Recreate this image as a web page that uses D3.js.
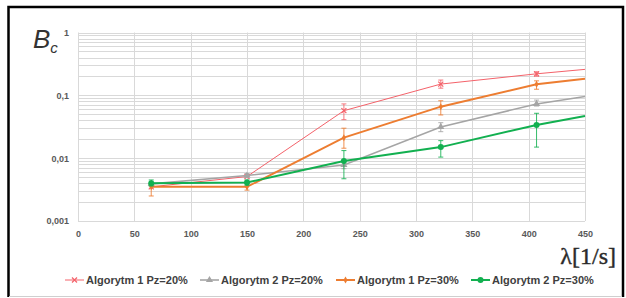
<!DOCTYPE html>
<html><head><meta charset="utf-8">
<script src="https://cdn.jsdelivr.net/npm/d3@7"></script>
<style>body{margin:0;background:#fff;}svg{display:block;font-family:Arial,"Liberation Sans",sans-serif;}</style>
</head><body><svg id="c" width="626" height="298"></svg>
<script>
const lambda = [65, 150, 236, 322, 407, 450];
const seriesNames = ["Algorytm 1 Pz=20%", "Algorytm 2 Pz=20%", "Algorytm 1 Pz=30%", "Algorytm 2 Pz=30%"];
const alg1pz20 = [0.0035, 0.0051, 0.057, 0.151, 0.22, 0.259];
const alg2pz20 = [0.0039, 0.0053, 0.0078, 0.0314, 0.073, 0.096];
const alg1pz30 = [0.0035, 0.0035, 0.0212, 0.066, 0.15, 0.184];
const alg2pz30 = [0.0040, 0.0041, 0.009, 0.015, 0.0338, 0.047];
const alg1pz20Lo = [null, null, 0.041, 0.130, 0.202, null];
const alg1pz20Hi = [null, null, 0.073, 0.175, 0.237, null];
const alg2pz20Lo = [null, 0.0049, 0.0068, 0.0264, 0.0676, null];
const alg2pz20Hi = [null, 0.0057, 0.0093, 0.0367, 0.084, null];
const alg1pz30Lo = [0.0025, 0.0031, 0.0144, 0.0487, 0.125, null];
const alg1pz30Hi = [0.0040, 0.0039, 0.030, 0.082, 0.17, null];
const alg2pz30Lo = [0.0036, 0.0037, 0.0047, 0.0104, 0.015, null];
const alg2pz30Hi = [0.0045, 0.0045, 0.0132, 0.019, 0.0518, null];
const xTicks = [0, 50, 100, 150, 200, 250, 300, 350, 400, 450];
const yTicks = [0.001, 0.01, 0.1, 1];
const yTickLabels = ["0,001", "0,01", "0,1", "1"];

const svg = d3.select("#c");
const x = d3.scaleLinear().domain([0, 450]).range([78, 585]);
const y = d3.scaleLog().domain([0.001, 1]).range([221, 32.5]);

// frame
svg.append("rect").attr("x", 0).attr("y", 0).attr("width", 626).attr("height", 298).attr("fill", "#fff");
svg.append("path").attr("d", "M8.5,297 L8.5,7 L623,7 L623,297").attr("fill", "none").attr("stroke", "#000").attr("stroke-width", 2.5);
svg.append("line").attr("x1", 9).attr("x2", 622).attr("y1", 296.5).attr("y2", 296.5).attr("stroke", "#cfcfcf").attr("stroke-width", 1);

// grid
const minor = [];
for (let k = -3; k < 0; k++) for (let m = 1; m <= 9; m++) minor.push(m * Math.pow(10, k));
minor.push(1);
const g = svg.append("g");
g.selectAll("line.h").data(minor).join("line")
  .attr("x1", x(0)).attr("x2", x(450))
  .attr("y1", d => Math.round(y(d)) + 0.5).attr("y2", d => Math.round(y(d)) + 0.5)
  .attr("stroke", "#d9d9d9").attr("stroke-width", 1);
g.selectAll("line.v").data(xTicks).join("line")
  .attr("x1", d => Math.round(x(d)) + 0.5).attr("x2", d => Math.round(x(d)) + 0.5)
  .attr("y1", y(1)).attr("y2", y(0.001))
  .attr("stroke", "#d9d9d9").attr("stroke-width", 1);

// axes labels
const xAxis = d3.axisBottom(x).tickValues(xTicks).tickSize(0).tickPadding(0);
const xa = svg.append("g").attr("transform", `translate(0,${y(0.001) + 10})`).call(xAxis);
xa.select(".domain").remove();
xa.selectAll("text").attr("font-size", 9).attr("font-weight", "bold").attr("fill", "#595959").attr("dy", "0.71em").attr("font-family", "Arial, 'Liberation Sans', sans-serif");
const yAxis = d3.axisLeft(y).tickValues(yTicks).tickFormat((d, i) => yTickLabels[i]).tickSize(0).tickPadding(0);
const ya = svg.append("g").attr("transform", `translate(69,0)`).call(yAxis);
ya.select(".domain").remove();
ya.selectAll("text").attr("font-size", 9).attr("font-weight", "bold").attr("fill", "#595959").attr("font-family", "Arial, 'Liberation Sans', sans-serif");

// series
const series = [
  {name: seriesNames[0], vals: alg1pz20, lo: alg1pz20Lo, hi: alg1pz20Hi, color: "#f4626a", w: 1, marker: "x"},
  {name: seriesNames[1], vals: alg2pz20, lo: alg2pz20Lo, hi: alg2pz20Hi, color: "#a5a5a5", w: 1.6, marker: "tri"},
  {name: seriesNames[2], vals: alg1pz30, lo: alg1pz30Lo, hi: alg1pz30Hi, color: "#ed7d31", w: 2, marker: "dia"},
  {name: seriesNames[3], vals: alg2pz30, lo: alg2pz30Lo, hi: alg2pz30Hi, color: "#12b050", w: 2, marker: "circ"}
];
const line = d3.line().x(d => x(d[0])).y(d => y(d[1]));

function drawMarker(sel, s, cx, cy) {
  if (s.marker === "x") {
    sel.append("path").attr("d", `M${cx-2.5},${cy-2.5}L${cx+2.5},${cy+2.5}M${cx-2.5},${cy+2.5}L${cx+2.5},${cy-2.5}`)
      .attr("stroke", s.color).attr("stroke-width", 1.2).attr("fill", "none");
  } else if (s.marker === "tri") {
    sel.append("path").attr("d", d3.symbol(d3.symbolTriangle, 22)()).attr("transform", `translate(${cx},${cy})`).attr("fill", s.color);
  } else if (s.marker === "dia") {
    sel.append("path").attr("d", d3.symbol(d3.symbolDiamond, 14)()).attr("transform", `translate(${cx},${cy})`).attr("fill", s.color);
  } else {
    sel.append("circle").attr("cx", cx).attr("cy", cy).attr("r", 3).attr("fill", s.color);
  }
}

series.forEach(s => {
  const gs = svg.append("g");
  const pts = lambda.map((l, i) => [l, s.vals[i]]);
  gs.append("path").attr("d", line(pts)).attr("fill", "none").attr("stroke", s.color).attr("stroke-width", s.w);
  lambda.forEach((l, i) => {
    if (s.lo[i] == null) return;
    const cx = x(l), y1 = y(s.lo[i]), y2 = y(s.hi[i]);
    gs.append("path").attr("d", `M${cx},${y1}L${cx},${y2}M${cx-2.5},${y1}L${cx+2.5},${y1}M${cx-2.5},${y2}L${cx+2.5},${y2}`)
      .attr("stroke", s.color).attr("stroke-width", 1).attr("fill", "none").attr("opacity", 0.85);
  });
  lambda.forEach((l, i) => {
    if (i === lambda.length - 1) return;
    drawMarker(gs, s, x(l), y(s.vals[i]));
  });
});

// title B_c
const t = svg.append("text").attr("x", 33).attr("y", 48).attr("font-family", "Arial, 'Liberation Sans', sans-serif").attr("font-style", "italic").attr("fill", "#333");
t.append("tspan").attr("font-size", 26).text("B");
t.append("tspan").attr("font-size", 15).attr("dy", 5).text("c");

// x axis title
svg.append("text").attr("x", 616).attr("y", 264).attr("text-anchor", "end").attr("font-family", "'Liberation Serif','DejaVu Serif',serif").attr("font-size", 24).attr("fill", "#2a2a2a").attr("stroke", "#2a2a2a").attr("stroke-width", 0.4).text("λ[1/s]");

// legend
const legX = [65, 200, 336, 471];
series.forEach((s, i) => {
  const lg = svg.append("g");
  const lx = legX[i], ly = 280;
  lg.append("line").attr("x1", lx).attr("x2", lx + 19).attr("y1", ly).attr("y2", ly).attr("stroke", s.color).attr("stroke-width", s.w);
  drawMarker(lg, s, lx + 9.5, ly);
  lg.append("text").attr("x", lx + 21).attr("y", ly).attr("dy", "0.35em").attr("font-size", 11).attr("font-weight", "bold").attr("fill", "#404040").text(s.name);
});
</script></body></html>
